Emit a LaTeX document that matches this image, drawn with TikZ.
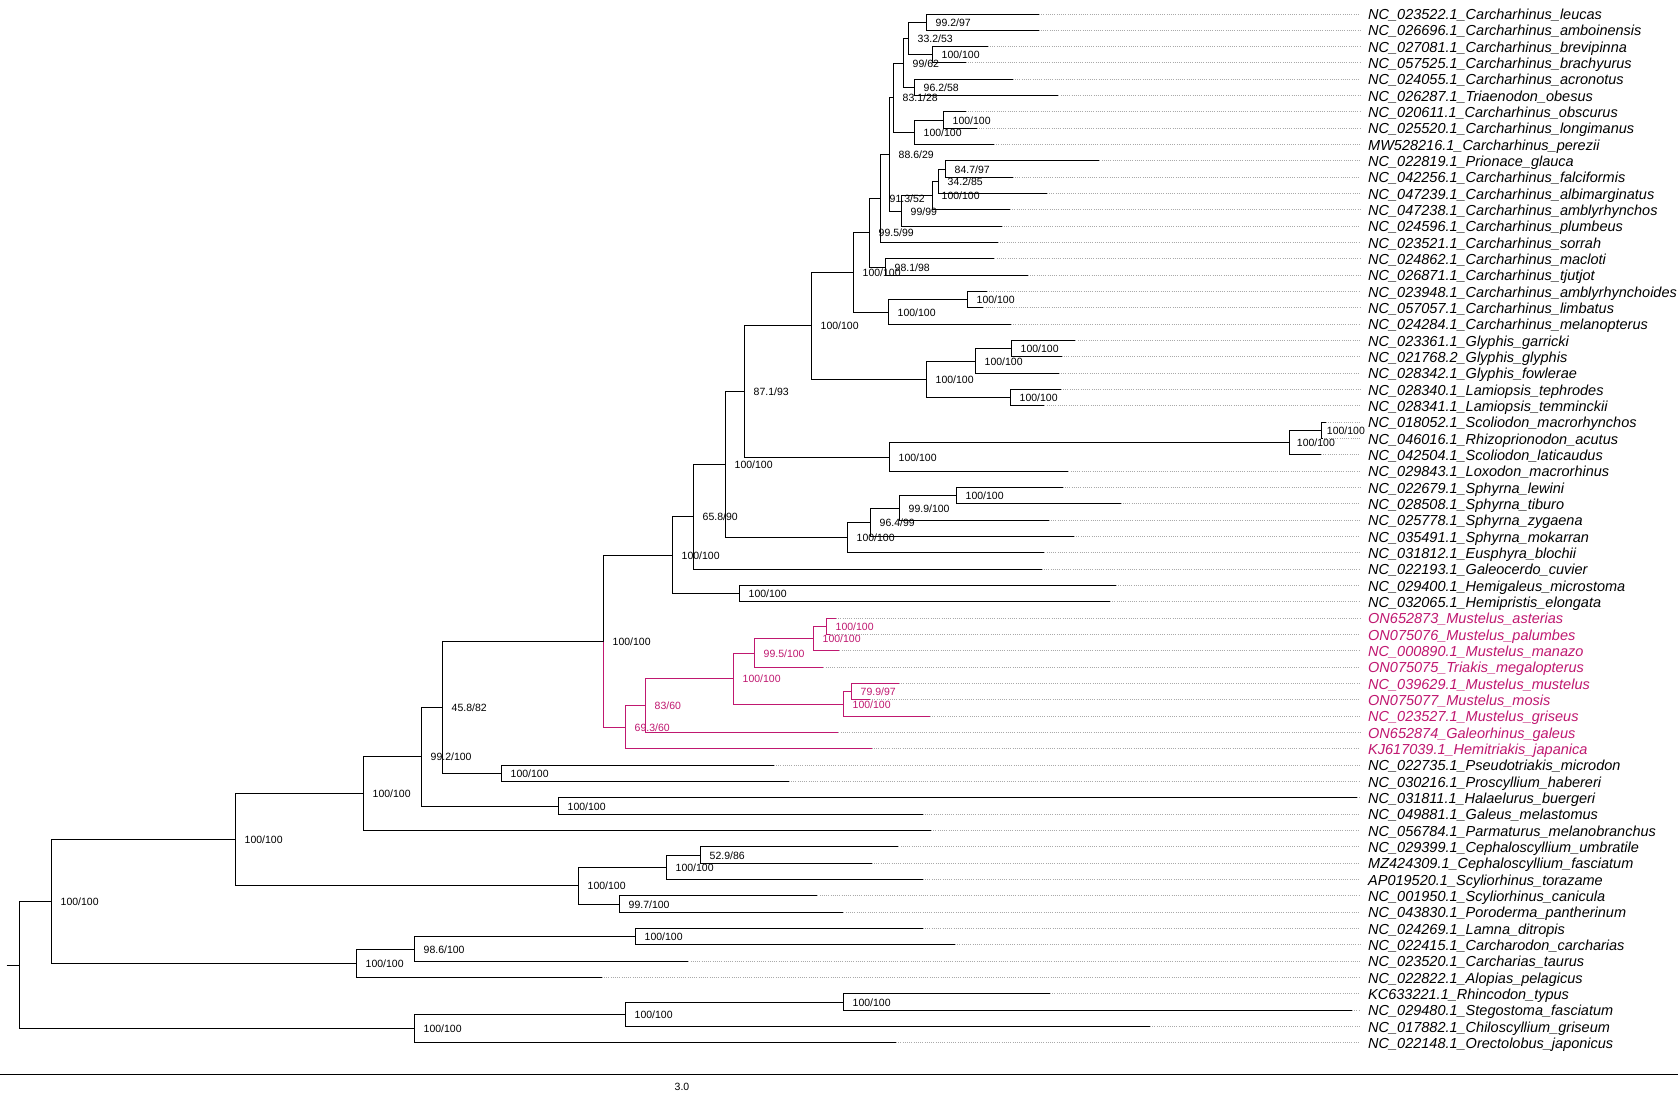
\documentclass[tikz,border=0pt]{standalone}
\usepackage{fontspec}
\setmainfont{Liberation Sans}
\usetikzlibrary{calc}
\definecolor{mag}{RGB}{192,24,112}
\definecolor{dotc}{RGB}{170,170,170}
\newcommand\nd[3]{\coordinate (#1) at ({floor(#2)+0.5},{floor(#3)+0.5});}
\begin{document}
\begin{tikzpicture}[x=1pt,y=-1pt,
  br/.style={line width=1pt},
  mbr/.style={line width=1pt,draw=mag},
  dotl/.style={draw=dotc,line width=0.8pt,dash pattern=on 1pt off 1.2pt},
  tip/.style={anchor=base west,inner sep=0pt,font=\fontsize{14.5}{14.5}\selectfont\itshape},
  sup/.style={anchor=base west,inner sep=0pt,font=\fontsize{10.5}{10.5}\selectfont}]
\fill[white] (0,0) rectangle (1678,1099);
\useasboundingbox (0,0) rectangle (1678,1099);
\coordinate (dx) at (1360,0);
% ---------- tips (black) ----------
\foreach \i/\x/\nm in {
1/1039/NC\_023522.1\_Carcharhinus\_leucas,
2/1038.5/NC\_026696.1\_Carcharhinus\_amboinensis,
3/987.7/NC\_027081.1\_Carcharhinus\_brevipinna,
4/965.7/NC\_057525.1\_Carcharhinus\_brachyurus,
5/1012.7/NC\_024055.1\_Carcharhinus\_acronotus,
6/1058.3/NC\_026287.1\_Triaenodon\_obesus,
7/965.7/NC\_020611.1\_Carcharhinus\_obscurus,
8/976.7/NC\_025520.1\_Carcharhinus\_longimanus,
9/994/MW528216.1\_Carcharhinus\_perezii,
10/1099.3/NC\_022819.1\_Prionace\_glauca,
11/1012.7/NC\_042256.1\_Carcharhinus\_falciformis,
12/1046.7/NC\_047239.1\_Carcharhinus\_albimarginatus,
13/1010/NC\_047238.1\_Carcharhinus\_amblyrhynchos,
14/1001.7/NC\_024596.1\_Carcharhinus\_plumbeus,
15/997.7/NC\_023521.1\_Carcharhinus\_sorrah,
16/994.3/NC\_024862.1\_Carcharhinus\_macloti,
17/1027.7/NC\_026871.1\_Carcharhinus\_tjutjot,
18/986.7/NC\_023948.1\_Carcharhinus\_amblyrhynchoides,
19/983.3/NC\_057057.1\_Carcharhinus\_limbatus,
20/1011/NC\_024284.1\_Carcharhinus\_melanopterus,
21/1075.3/NC\_023361.1\_Glyphis\_garricki,
22/1061.7/NC\_021768.2\_Glyphis\_glyphis,
23/1058.7/NC\_028342.1\_Glyphis\_fowlerae,
24/1060.7/NC\_028340.1\_Lamiopsis\_tephrodes,
25/1044.3/NC\_028341.1\_Lamiopsis\_temminckii,
26/1326/NC\_018052.1\_Scoliodon\_macrorhynchos,
27/1322/NC\_046016.1\_Rhizoprionodon\_acutus,
28/1321/NC\_042504.1\_Scoliodon\_laticaudus,
29/1068.3/NC\_029843.1\_Loxodon\_macrorhinus,
30/1062.7/NC\_022679.1\_Sphyrna\_lewini,
31/1120.5/NC\_028508.1\_Sphyrna\_tiburo,
32/1048.7/NC\_025778.1\_Sphyrna\_zygaena,
33/1074/NC\_035491.1\_Sphyrna\_mokarran,
34/1044.3/NC\_031812.1\_Eusphyra\_blochii,
35/1041.7/NC\_022193.1\_Galeocerdo\_cuvier,
36/1116/NC\_029400.1\_Hemigaleus\_microstoma,
37/1110/NC\_032065.1\_Hemipristis\_elongata,
47/773.8/NC\_022735.1\_Pseudotriakis\_microdon,
48/788.7/NC\_030216.1\_Proscyllium\_habereri,
49/1357/NC\_031811.1\_Halaelurus\_buergeri,
50/922.5/NC\_049881.1\_Galeus\_melastomus,
51/931/NC\_056784.1\_Parmaturus\_melanobranchus,
52/898.3/NC\_029399.1\_Cephaloscyllium\_umbratile,
53/871.7/MZ424309.1\_Cephaloscyllium\_fasciatum,
54/922.7/AP019520.1\_Scyliorhinus\_torazame,
55/817.3/NC\_001950.1\_Scyliorhinus\_canicula,
56/843.3/NC\_043830.1\_Poroderma\_pantherinum,
57/922.7/NC\_024269.1\_Lamna\_ditropis,
58/955/NC\_022415.1\_Carcharodon\_carcharias,
59/688.3/NC\_023520.1\_Carcharias\_taurus,
60/601.7/NC\_022822.1\_Alopias\_pelagicus,
61/1050/KC633221.1\_Rhincodon\_typus,
62/1352/NC\_029480.1\_Stegostoma\_fasciatum,
63/1150/NC\_017882.1\_Chiloscyllium\_griseum,
64/896/NC\_022148.1\_Orectolobus\_japonicus}{
  \coordinate (t\i) at (\x,{floor(14+(\i-1)*16.3333)+0.5});
  \node[tip] (l\i) at (1368,{19.5+(\i-1)*16.3333}) {\nm};
  \draw[dotl] (t\i) -- (t\i -| dx);
}
% ---------- tips (magenta) ----------
\foreach \i/\x/\nm in {
38/836/ON652873\_Mustelus\_asterias,
39/830/ON075076\_Mustelus\_palumbes,
40/839.3/NC\_000890.1\_Mustelus\_manazo,
41/823.3/ON075075\_Triakis\_megalopterus,
42/899/NC\_039629.1\_Mustelus\_mustelus,
43/870/ON075077\_Mustelus\_mosis,
44/930/NC\_023527.1\_Mustelus\_griseus,
45/838.3/ON652874\_Galeorhinus\_galeus,
46/871.7/KJ617039.1\_Hemitriakis\_japanica}{
  \coordinate (t\i) at (\x,{floor(14+(\i-1)*16.3333)+0.5});
  \node[tip,text=mag] (l\i) at (1368,{19.5+(\i-1)*16.3333}) {\nm};
  \draw[dotl] (t\i) -- (t\i -| dx);
}
% ---------- internal nodes ----------
\nd{a1}{926}{22.15}
\nd{a2}{932.3}{54.85}
\nd{a3}{908.3}{38.5}
\nd{a4}{914.3}{87.5}
\nd{a5}{903.3}{63.0}
\nd{a6}{943.3}{120.15}
\nd{a7}{914.3}{132.4}
\nd{a8}{893.3}{97.7}
\nd{a9}{945.7}{169.15}
\nd{a10}{938.3}{181.4}
\nd{a11}{932.3}{195.7}
\nd{a12}{901}{211.0}
\nd{a13}{889.3}{154.35}
\nd{a14}{880}{198.5}
\nd{a15}{885.7}{267.15}
\nd{a16}{869.5}{232.8}
\nd{a17}{967.3}{299.85}
\nd{a18}{888.3}{312.1}
\nd{a19}{853.3}{272.45}
\nd{a20}{1011.3}{348.85}
\nd{a21}{975.7}{361.1}
\nd{a22}{1010.3}{397.85}
\nd{a23}{926.7}{379.5}
\nd{a24}{811.7}{325.95}
\nd{a25}{1321}{430.5}
\nd{a26}{1289}{442.75}
\nd{a27}{889.3}{457.0}
\nd{a28}{744.7}{391.5}
\nd{a29}{956}{495.85}
\nd{a30}{899}{508.1}
\nd{a31}{870.5}{522.4}
\nd{a32}{847.7}{537.7}
\nd{a33}{725.7}{464.6}
\nd{a34}{693.3}{516.95}
\nd{a35}{739.3}{593.85}
\nd{a36}{672.3}{555.4}
\nd{m1}{826.7}{626.5}
\nd{m2}{813.3}{638.75}
\nd{m3}{754.3}{653.0}
\nd{m4}{851.7}{691.85}
\nd{m5}{843.3}{704.1}
\nd{m6}{733.3}{678.55}
\nd{m7}{645.7}{705.6}
\nd{m8}{625.3}{727.3}
\nd{a37}{603.3}{641.35}
\nd{a38}{501.7}{773.5}
\nd{a39}{442.7}{707.4}
\nd{a40}{558.3}{806.15}
\nd{a41}{421.7}{756.8}
\nd{a42}{363.3}{793.7}
\nd{a43}{700}{855.15}
\nd{a44}{666}{867.4}
\nd{a45}{619.3}{904.15}
\nd{a46}{578.3}{885.8}
\nd{a47}{235.3}{839.75}
\nd{a48}{635.3}{936.85}
\nd{a49}{414.5}{949.1}
\nd{a50}{356.3}{963.4}
\nd{a51}{51.3}{901.6}
\nd{b1}{843.7}{1002.15}
\nd{b2}{625.3}{1014.4}
\nd{b3}{414.5}{1028.7}
\nd{rt}{19}{965.15}
\nd{r0}{6}{965.15}
% ---------- branches ----------
\foreach \p/\c in {a1/t1,a1/t2,a2/t3,a2/t4,a3/a1,a3/a2,a4/t5,a4/t6,a5/a3,a5/a4,
  a6/t7,a6/t8,a7/a6,a7/t9,a8/a5,a8/a7,a9/t10,a9/t11,a10/a9,a10/t12,a11/a10,a11/t13,
  a12/a11,a12/t14,a13/a8,a13/a12,a14/a13,a14/t15,a15/t16,a15/t17,a16/a14,a16/a15,
  a17/t18,a17/t19,a18/a17,a18/t20,a19/a16,a19/a18,a20/t21,a20/t22,a21/a20,a21/t23,
  a22/t24,a22/t25,a23/a21,a23/a22,a24/a19,a24/a23,a25/t26,a25/t27,a26/a25,a26/t28,
  a27/a26,a27/t29,a28/a24,a28/a27,a29/t30,a29/t31,a30/a29,a30/t32,a31/a30,a31/t33,
  a32/a31,a32/t34,a33/a28,a33/a32,a34/a33,a34/t35,a35/t36,a35/t37,a36/a34,a36/a35,
  a37/a36,a38/t47,a38/t48,a39/a37,a39/a38,a40/t49,a40/t50,a41/a39,a41/a40,a42/a41,a42/t51,
  a43/t52,a43/t53,a44/a43,a44/t54,a45/t55,a45/t56,a46/a44,a46/a45,a47/a42,a47/a46,
  a48/t57,a48/t58,a49/a48,a49/t59,a50/a49,a50/t60,a51/a47,a51/a50,
  b1/t61,b1/t62,b2/b1,b2/t63,b3/b2,b3/t64,rt/a51,rt/b3}{
  \draw[br] (\p) |- (\c);
}
\foreach \p/\c in {m1/t38,m1/t39,m2/m1,m2/t40,m3/m2,m3/t41,m4/t42,m4/t43,m5/m4,m5/t44,
  m6/m3,m6/m5,m7/m6,m7/t45,m8/m7,m8/t46,a37/m8}{
  \draw[mbr] (\p) |- (\c);
}
\draw[br] (r0) -- (rt);
% ---------- support values ----------
\foreach \n/\u/\v in {a1/99.2/97,a2/100/100,a3/33.2/53,a4/96.2/58,a5/99/62,a6/100/100,
  a7/100/100,a8/83.1/28,a9/84.7/97,a10/34.2/85,a11/100/100,a12/99/99,a13/88.6/29,
  a14/91.3/52,a15/98.1/98,a16/99.5/99,a17/100/100,a18/100/100,a19/100/100,a20/100/100,
  a21/100/100,a22/100/100,a23/100/100,a24/100/100,a27/100/100,a28/87.1/93,a29/100/100,
  a30/99.9/100,a31/96.4/99,a32/100/100,a33/100/100,a34/65.8/90,a35/100/100,a36/100/100,
  a37/100/100,a38/100/100,a39/45.8/82,a40/100/100,a41/99.2/100,a42/100/100,a43/52.9/86,
  a44/100/100,a45/99.7/100,a46/100/100,a47/100/100,a48/100/100,a49/98.6/100,a50/100/100,
  a51/100/100,b1/100/100,b2/100/100,b3/100/100}{
  \node[sup] (s\n) at ($(\n)+(9,4.4)$) {\u/\v};
}
\node[sup] (sa25) at ($(a25)+(5.2,4.4)$) {100/100};
\node[sup] (sa26) at ($(a26)+(7.2,4.4)$) {100/100};
\foreach \n/\u/\v in {m1/100/100,m2/100/100,m3/99.5/100,m4/79.9/97,m5/100/100,
  m6/100/100,m7/83/60,m8/69.3/60}{
  \node[sup,text=mag] (s\n) at ($(\n)+(9,4.4)$) {\u/\v};
}
% ---------- scale bar ----------
\coordinate (sb1) at (0,1074.5);
\coordinate (sb2) at (1678,1074.5);
\draw[br] (sb1) -- (sb2);
\node[sup,anchor=base] (sbl) at (682,1090) {3.0};
\end{tikzpicture}
\end{document}
